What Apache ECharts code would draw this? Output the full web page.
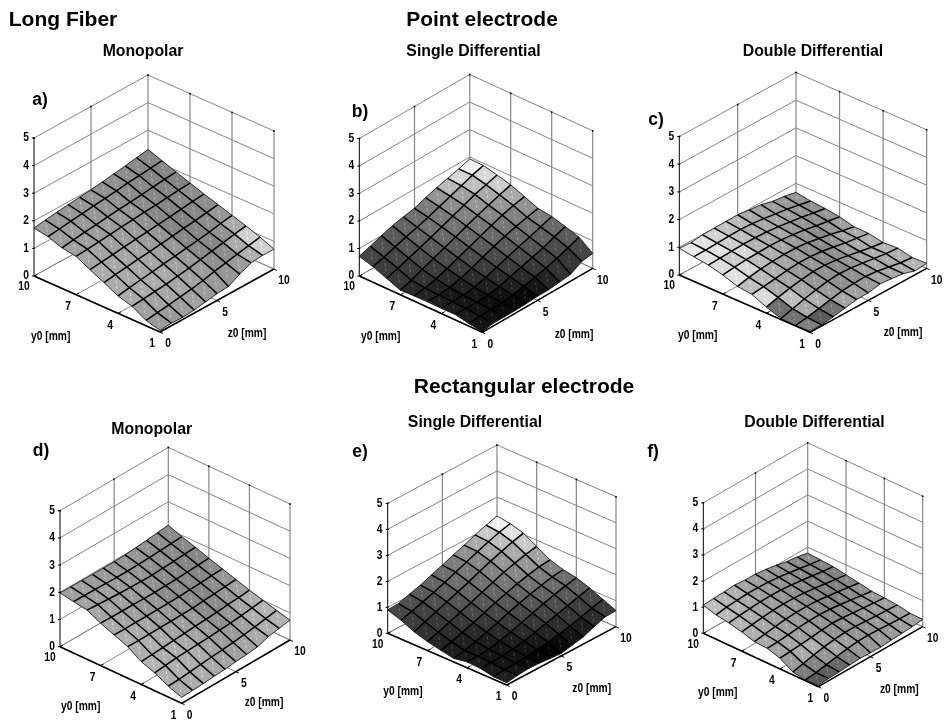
<!DOCTYPE html>
<html>
<head>
<meta charset="utf-8">
<style>html,body{margin:0;padding:0;background:#fff}#c{width:946px;height:725px}</style>
<script src="https://cdn.jsdelivr.net/npm/echarts@6/dist/echarts.min.js"></script>
</head>
<body>
<div id="c"></div>
<script>
var valueTicks=[0,1,2,3,4,5];
var y0Ticks=[10,7,4,1];
var z0Ticks=[0,5,10];
var y0Axis=[10,9,8,7,6,5,4,3,2,1];
var z0Axis=[0,1,2,3,4,5,6,7,8,9,10];

var surfaceA=[
[1.74,1.80,1.85,1.90,1.94,1.98,2.04,2.10,2.16,2.23,2.30],
[1.65,1.70,1.76,1.80,1.85,1.90,1.94,2.00,2.04,2.08,2.12],
[1.47,1.53,1.58,1.63,1.68,1.72,1.76,1.80,1.85,1.90,1.94],
[1.39,1.42,1.46,1.50,1.54,1.58,1.62,1.65,1.69,1.73,1.76],
[1.13,1.18,1.22,1.27,1.32,1.36,1.40,1.45,1.50,1.55,1.59],
[0.89,0.95,1.00,1.05,1.10,1.15,1.20,1.26,1.31,1.37,1.43],
[0.63,0.70,0.76,0.82,0.88,0.93,0.99,1.05,1.12,1.20,1.27],
[0.48,0.52,0.56,0.60,0.66,0.72,0.80,0.88,0.96,1.04,1.11],
[0.20,0.25,0.30,0.36,0.42,0.50,0.60,0.68,0.77,0.85,0.93],
[0.06,0.09,0.08,0.11,0.18,0.25,0.28,0.50,0.68,0.72,0.72]];
var shadeA=[
[156,154,152,151,149,146,144,141,138,136],
[156,156,154,152,148,146,141,138,134,134],
[161,158,156,156,154,151,141,136,134,131],
[166,164,161,158,156,148,136,134,138,141],
[171,168,166,164,158,151,134,131,136,141],
[171,171,168,166,161,151,136,134,141,151],
[171,171,171,168,161,154,138,136,146,171],
[161,164,166,166,161,156,144,141,171,208],
[156,156,158,161,156,154,151,156,176,208]];

var surfaceB=[
[.72,.85,1.00,1.13,1.22,1.30,1.45,1.58,1.69,1.80,1.93],
[.57,.68,.82,.95,1.07,1.20,1.35,1.50,1.65,1.80,1.92],
[.37,.50,.64,.78,.93,1.08,1.24,1.40,1.56,1.68,1.80],
[.17,.30,.46,.62,.78,.94,1.10,1.26,1.40,1.54,1.67],
[.19,.24,.34,.48,.64,.80,.96,1.12,1.26,1.38,1.47],
[.20,.22,.26,.36,.50,.66,.82,.96,1.08,1.18,1.27],
[.19,.20,.20,.26,.38,.52,.66,.80,.92,1.06,1.20],
[.20,.18,.17,.20,.28,.40,.52,.64,.76,.92,1.06],
[.10,.12,.13,.15,.20,.28,.38,.48,.60,.75,.90],
[.02,.10,.10,.10,.12,.15,.15,.20,.25,.48,.54]];
var shadeB=[
[68,80,90,100,112,125,150,185,215,240],
[60,70,85,100,112,122,140,160,190,218],
[55,60,75,90,105,115,130,150,170,205],
[40,50,60,75,90,105,120,135,150,170],
[35,35,45,60,75,90,105,120,130,145],
[30,25,32,45,60,75,90,105,115,125],
[28,22,22,32,45,60,75,85,95,105],
[25,20,15,18,30,42,55,65,75,90],
[20,15,10,8,10,22,35,50,55,70]];

var surfaceC=[
[.96,.94,.99,1.00,1.01,1.02,.96,.92,.81,.76,.67],
[.89,.90,.92,.94,.95,.93,.88,.82,.76,.68,.59],
[.82,.84,.86,.88,.88,.86,.82,.76,.70,.62,.55],
[.69,.74,.78,.80,.82,.80,.76,.70,.62,.55,.48],
[.51,.60,.68,.72,.74,.74,.70,.62,.54,.44,.35],
[.45,.50,.56,.62,.66,.66,.62,.54,.46,.40,.34],
[.22,.34,.44,.52,.58,.58,.54,.46,.38,.30,.24],
[.04,.16,.28,.38,.46,.50,.48,.42,.36,.30,.27],
[.01,.08,.16,.26,.34,.38,.40,.36,.28,.20,.16],
[.04,.04,.10,.18,.26,.27,.36,.32,.27,.14,.18]];
var shadeC=[
[235,225,210,195,185,170,165,160,155,150],
[230,225,205,190,175,170,165,160,150,145],
[220,205,215,180,170,165,155,150,145,150],
[225,215,190,175,165,155,150,140,150,160],
[190,185,175,165,155,145,140,150,165,170],
[218,170,165,155,150,140,145,160,170,175],
[112,190,165,150,145,140,150,165,175,180],
[115,170,175,155,145,145,160,170,170,175],
[128,92,115,165,160,155,165,170,175,180]];

var surfaceD=[
[1.98,1.97,1.97,1.96,1.96,1.96,1.98,2.01,2.05,2.10,2.14],
[1.89,1.88,1.87,1.86,1.85,1.85,1.86,1.88,1.90,1.93,1.95],
[1.81,1.78,1.75,1.73,1.71,1.70,1.70,1.72,1.74,1.77,1.79],
[1.56,1.55,1.54,1.54,1.53,1.53,1.54,1.55,1.57,1.60,1.62],
[1.36,1.35,1.35,1.35,1.36,1.36,1.37,1.39,1.41,1.44,1.46],
[1.16,1.15,1.15,1.16,1.16,1.17,1.18,1.21,1.24,1.27,1.30],
[.84,.86,.89,.92,.95,.98,1.00,1.03,1.07,1.10,1.14],
[.66,.70,.74,.76,.78,.80,.83,.86,.90,.95,1.00],
[.40,.42,.46,.50,.54,.57,.61,.66,.72,.79,.86],
[.22,.24,.26,.30,.32,.37,.40,.45,.59,.66,.73]];
var shadeD=[
[160,160,155,155,153,150,150,145,143,140],
[163,160,160,155,153,150,145,143,140,137],
[165,163,160,155,153,145,140,137,135,135],
[170,165,160,153,150,140,140,137,135,140],
[175,170,165,155,153,150,140,135,140,150],
[175,175,170,165,160,155,140,140,150,160],
[180,175,175,170,165,155,145,150,165,175],
[175,177,175,173,165,155,155,160,175,180],
[170,173,173,170,165,160,165,170,175,177]];

var surfaceE=[
[.90,.92,1.06,1.18,1.35,1.50,1.67,1.82,1.99,2.14,2.27],
[.73,.84,.98,1.12,1.28,1.45,1.62,1.79,1.95,2.09,2.20],
[.50,.66,.82,.98,1.14,1.30,1.48,1.65,1.80,1.94,2.05],
[.35,.48,.64,.80,.95,1.12,1.28,1.44,1.57,1.68,1.76],
[.24,.34,.47,.62,.78,.94,1.08,1.22,1.33,1.42,1.47],
[.14,.22,.34,.48,.62,.78,.92,1.04,1.16,1.26,1.31],
[.23,.22,.27,.36,.48,.62,.76,.90,1.02,1.13,1.22],
[.20,.20,.22,.27,.36,.46,.58,.70,.82,.94,1.05],
[.10,.14,.16,.19,.24,.30,.38,.48,.60,.72,.83],
[.09,.15,.19,.17,.13,.10,.19,.28,.45,.60,.62]];
var shadeE=[
[70,80,90,100,110,125,145,170,200,240],
[62,65,80,95,110,120,135,165,190,225],
[50,55,68,85,100,112,130,150,170,200],
[38,45,55,72,88,102,120,135,150,160],
[30,32,42,55,72,88,102,115,125,130],
[25,25,30,42,58,72,85,98,108,110],
[28,22,22,30,42,55,68,78,88,95],
[25,20,18,18,25,35,45,55,62,70],
[30,22,12,5,2,10,20,30,45,60]];

var surfaceF=[
[1.08,1.11,1.13,1.16,1.12,1.12,1.07,1.00,.91,.86,.77],
[.93,1.00,1.03,1.06,1.06,1.04,1.00,.94,.87,.80,.74],
[.85,.90,.94,.97,.98,.97,.93,.88,.82,.76,.71],
[.74,.78,.83,.87,.89,.88,.85,.80,.74,.68,.62],
[.59,.65,.71,.76,.79,.79,.77,.72,.66,.60,.54],
[.56,.58,.62,.66,.69,.70,.68,.63,.57,.51,.45],
[.41,.44,.48,.52,.57,.60,.58,.54,.50,.46,.42],
[.11,.20,.30,.38,.44,.48,.48,.45,.42,.40,.38],
[.03,.08,.16,.24,.31,.36,.37,.35,.32,.30,.29],
[.06,.09,.11,.14,.17,.15,.14,.18,.20,.23,.28]];
var shadeF=[
[190,180,175,165,160,150,148,145,140,138],
[185,178,170,160,155,148,145,140,135,132],
[180,172,165,158,150,145,140,135,132,130],
[175,168,160,155,150,140,135,132,130,135],
[170,165,160,155,150,140,135,135,140,145],
[165,165,160,155,148,140,140,145,150,155],
[155,170,175,160,148,145,148,150,155,160],
[125,130,150,165,158,150,150,155,155,160],
[90,95,105,130,150,150,155,155,158,160]];

var headings=[
 {text:'Long Fiber',x:63,y:20},
 {text:'Point electrode',x:482,y:20},
 {text:'Rectangular electrode',x:524,y:387}];

// panel frames: L = floor corner (y0=10,z0=0), F = (y0=1,z0=0), R = (y0=1,z0=10), unit = px per value unit
var panels=[
 {name:'a)',sub:'Monopolar',z:surfaceA,s:shadeA,L:[34,276],F:[160,332],R:[274,269],unit:27.6,subAt:[143,52],tagAt:[40,100],yAt:[50.7,337],zAt:[247,334]},
 {name:'b)',sub:'Single Differential',z:surfaceB,s:shadeB,L:[359.3,276],F:[482.3,332.3],R:[592.7,268.3],unit:27.5,subAt:[473.5,52],tagAt:[360,112],yAt:[380.7,337],zAt:[574,335]},
 {name:'c)',sub:'Double Differential',z:surfaceC,s:shadeC,L:[679.3,275],F:[810,332.3],R:[926.7,268.3],unit:27.7,subAt:[813,52],tagAt:[656,120],yAt:[697.7,336],zAt:[903,333]},
 {name:'d)',sub:'Monopolar',z:surfaceD,s:shadeD,L:[60,646.7],F:[181.7,703.3],R:[290,640],unit:27.2,subAt:[151.7,430],tagAt:[41,451],yAt:[80.7,706.7],zAt:[264,703]},
 {name:'e)',sub:'Single Differential',z:surfaceE,s:shadeE,L:[387.7,633.3],F:[506.7,685],R:[616,626.7],unit:26,subAt:[475,423],tagAt:[360,452],yAt:[403,691.7],zAt:[591.7,689]},
 {name:'f)',sub:'Double Differential',z:surfaceF,s:shadeF,L:[703.3,633.3],F:[818.3,686.7],R:[922.7,626.7],unit:26.1,subAt:[814.5,423],tagAt:[653,452],yAt:[717.7,693],zAt:[899.3,690]}
];

var FONT='"Liberation Sans","Arial",sans-serif';

function project(p,y0,z0,v){
  var a=(10-y0)/9,b=z0/10;
  var x=p.L[0]+a*(p.F[0]-p.L[0])+b*(p.R[0]-p.F[0]);
  var y=p.L[1]+a*(p.F[1]-p.L[1])+b*(p.R[1]-p.F[1])-v*p.unit;
  return [x-p.g.left,p.g.top+p.g.height-y];
}

var grids=[],xAxes=[],yAxes=[],series=[],titles=[];

headings.forEach(function(h){
  titles.push({text:h.text,left:h.x,top:h.y,textAlign:'center',textVerticalAlign:'middle',padding:0,
    textStyle:{fontFamily:FONT,fontSize:21,fontWeight:'bold',color:'#000'}});
});

panels.forEach(function(p,pi){
  var backY=p.L[1]+p.R[1]-p.F[1]-5*p.unit;
  p.g={left:p.L[0],top:backY,width:p.R[0]-p.L[0],height:p.F[1]-backY};
  grids.push({left:p.g.left,top:p.g.top,width:p.g.width,height:p.g.height,containLabel:false});
  xAxes.push({type:'value',gridIndex:pi,min:0,max:p.g.width,show:false});
  yAxes.push({type:'value',gridIndex:pi,min:0,max:p.g.height,show:false});

  titles.push({text:p.sub,left:p.subAt[0],top:p.subAt[1],textAlign:'center',textVerticalAlign:'middle',padding:0,
    textStyle:{fontFamily:FONT,fontSize:15.8,fontWeight:'bold',color:'#000'}});
  titles.push({text:p.name,left:p.tagAt[0],top:p.tagAt[1],textAlign:'center',textVerticalAlign:'middle',padding:0,
    textStyle:{fontFamily:FONT,fontSize:17.5,fontWeight:'bold',color:'#000'}});

  function line(api,a,b,color,w){
    var s=api.coord(a),e=api.coord(b);
    return {type:'line',shape:{x1:s[0],y1:s[1],x2:e[0],y2:e[1]},style:{stroke:color,lineWidth:w}};
  }

  var GRAY='#858585';
  series.push({type:'custom',name:'box '+p.name,xAxisIndex:pi,yAxisIndex:pi,z:2,silent:true,clip:false,animation:false,
    data:[[0]],
    renderItem:function(params,api){
      var ch=[];
      var P=function(y,z,v){return project(p,y,z,v);};
      valueTicks.forEach(function(v){
        ch.push(line(api,P(10,0,v),P(10,10,v),GRAY,1));
        ch.push(line(api,P(10,10,v),P(1,10,v),GRAY,1));
      });
      z0Ticks.forEach(function(z){
        ch.push(line(api,P(10,z,0),P(1,z,0),GRAY,1));
        if(z>0)ch.push(line(api,P(10,z,0),P(10,z,5),GRAY,1.2));
      });
      y0Ticks.forEach(function(y){
        ch.push(line(api,P(y,0,0),P(y,10,0),GRAY,1));
        if(y<10)ch.push(line(api,P(y,10,0),P(y,10,5),GRAY,1.2));
      });
      return {type:'group',children:ch};
    }});

  var cells=[];
  for(var r=0;r<y0Axis.length-1;r++){
    for(var c=z0Axis.length-2;c>=0;c--){cells.push([r,c,p.s[r][c]]);}
  }
  series.push({type:'custom',name:'surface '+p.name,xAxisIndex:pi,yAxisIndex:pi,z:3,silent:true,clip:false,animation:false,
    data:cells,
    renderItem:function(params,api){
      var r=api.value(0),c=api.value(1),g=api.value(2);
      var A=api.coord(project(p,y0Axis[r],z0Axis[c],p.z[r][c]));
      var B=api.coord(project(p,y0Axis[r],z0Axis[c+1],p.z[r][c+1]));
      var C=api.coord(project(p,y0Axis[r+1],z0Axis[c+1],p.z[r+1][c+1]));
      var D=api.coord(project(p,y0Axis[r+1],z0Axis[c],p.z[r+1][c]));
      var col='rgb('+g+','+g+','+g+')';
      var lite=Math.min(255,g+50);
      return {type:'group',children:[
        {type:'polygon',shape:{points:[A,B,C,D]},style:{fill:col,stroke:col,lineWidth:0.6}},
        {type:'line',shape:{x1:B[0]*0.72+D[0]*0.28,y1:B[1]*0.72+D[1]*0.28,x2:B[0]*0.3+D[0]*0.7,y2:B[1]*0.3+D[1]*0.7},
          style:{stroke:'rgb('+lite+','+lite+','+lite+')',lineWidth:0.8,lineDash:[3,2]}}
      ]};
    }});

  var mesh=[];
  for(var i=0;i<y0Axis.length;i++)mesh.push([0,i]);
  for(var j=0;j<z0Axis.length;j++)mesh.push([1,j]);
  series.push({type:'custom',name:'mesh '+p.name,xAxisIndex:pi,yAxisIndex:pi,z:4,silent:true,clip:false,animation:false,
    data:mesh,
    renderItem:function(params,api){
      var kind=api.value(0),k=api.value(1),pts=[],q;
      if(kind===0){for(q=0;q<z0Axis.length;q++)pts.push(api.coord(project(p,y0Axis[k],z0Axis[q],p.z[k][q])));}
      else{for(q=0;q<y0Axis.length;q++)pts.push(api.coord(project(p,y0Axis[q],z0Axis[k],p.z[q][k])));}
      var edge=(kind===0&&(k===0||k===y0Axis.length-1))||(kind===1&&(k===0||k===z0Axis.length-1));
      return {type:'polyline',shape:{points:pts},style:{fill:null,stroke:edge?'#222':'#000',lineWidth:edge?0.9:1.5}};
    }});

  series.push({type:'custom',name:'axes '+p.name,xAxisIndex:pi,yAxisIndex:pi,z:5,silent:true,clip:false,animation:false,
    data:[[0]],
    renderItem:function(params,api){
      var ch=[];
      var P=function(y,z,v){return project(p,y,z,v);};
      ch.push(line(api,P(10,0,0),P(10,0,5),'#000',1));
      ch.push(line(api,P(10,0,0),P(1,0,0),'#000',1.5));
      ch.push(line(api,P(1,0,0),P(1,10,0),'#000',1.5));
      function put(str,x,y,size,sx){
        ch.push({type:'text',x:x,y:y,scaleX:sx,style:{text:String(str),x:0,y:0,align:'center',verticalAlign:'middle',font:'bold '+size+'px '+FONT,fill:'#000'}});
      }
      var SX=0.82,TS=12.5;
      valueTicks.forEach(function(v){
        var a=api.coord(P(10,0,v));
        ch.push({type:'line',shape:{x1:a[0]-2,y1:a[1],x2:a[0]+1,y2:a[1]},style:{stroke:'#000',lineWidth:1}});
        put(v,a[0]-8,a[1],TS,SX);
      });
      y0Ticks.forEach(function(y){
        var a=api.coord(P(y,0,0));
        ch.push({type:'line',shape:{x1:a[0],y1:a[1],x2:a[0]+3,y2:a[1]-1.5},style:{stroke:'#000',lineWidth:1}});
        put(y,a[0]+(y===10?-10:-8),a[1]+(y===10?11:12),TS,SX);
      });
      z0Ticks.forEach(function(z){
        var a=api.coord(P(1,z,0));
        ch.push({type:'line',shape:{x1:a[0],y1:a[1],x2:a[0]+3,y2:a[1]+1.5},style:{stroke:'#000',lineWidth:1}});
        put(z,a[0]+(z===10?10:8),a[1]+12,TS,SX);
      });
      [[10,0],[10,5],[10,10],[7,10],[4,10],[1,10]].forEach(function(t){
        var a=api.coord(project(p,t[0],t[1],5));
        ch.push({type:'circle',shape:{cx:a[0],cy:a[1],r:0.9},style:{fill:'#000'}});
      });
      put('y0 [mm]',p.yAt[0],p.yAt[1],TS,SX);
      put('z0 [mm]',p.zAt[0],p.zAt[1],TS,SX);
      return {type:'group',children:ch};
    }});
});

var chart=echarts.init(document.getElementById('c'),null,{renderer:'canvas',width:946,height:725});
chart.setOption({animation:false,backgroundColor:'#fff',title:titles,grid:grids,xAxis:xAxes,yAxis:yAxes,series:series,tooltip:{show:false},legend:{show:false}});
</script>
</body>
</html>
